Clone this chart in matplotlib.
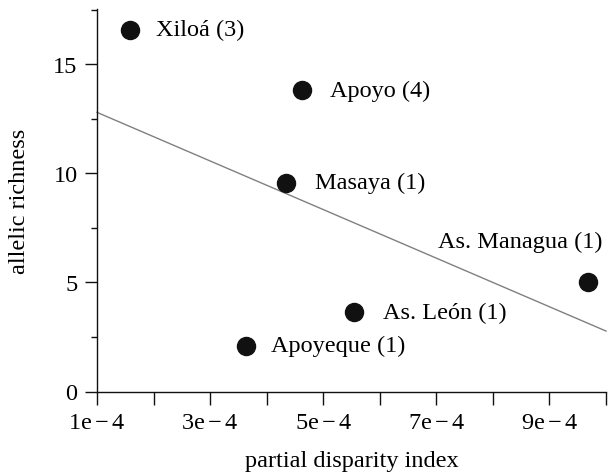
import numpy as np
import matplotlib
matplotlib.use("Agg")
import matplotlib.pyplot as plt
from matplotlib.ticker import FixedLocator

# data
sites = ["Xiloá (3)", "Apoyo (4)", "Masaya (1)", "As. Managua (1)", "As. León (1)", "Apoyeque (1)"]
disparity = [1.58e-4, 4.62e-4, 4.34e-4, 9.69e-4, 5.54e-4, 3.63e-4]
richness = [16.57, 13.82, 9.56, 5.02, 3.64, 2.09]
xticks = [1e-4, 2e-4, 3e-4, 4e-4, 5e-4, 6e-4, 7e-4, 8e-4, 9e-4, 10e-4]
xticklabels = [r"$\mathrm{1e-4}$", "", r"$\mathrm{3e-4}$", "", r"$\mathrm{5e-4}$", "",
               r"$\mathrm{7e-4}$", "", r"$\mathrm{9e-4}$", ""]
yticks = [0, 5, 10, 15]
yminor = [2.5, 7.5, 12.5, 17.5]

plt.rcParams['font.family'] = ['Liberation Serif', 'DejaVu Serif']
plt.rcParams['mathtext.fontset'] = 'custom'
plt.rcParams['mathtext.rm'] = 'Liberation Serif'
plt.rcParams['mathtext.it'] = 'Liberation Serif:italic'
plt.rcParams['mathtext.bf'] = 'Liberation Serif:bold'
FS = 17.5
plt.rcParams['font.size'] = FS

fig = plt.figure(figsize=(6.11, 4.77), dpi=100)
ax = fig.add_axes([97/611, 1-392.5/477, 509/611, 382.5/477])

xlim = (1e-4, 10e-4)
ylim = (0, 17.53)
ax.set_xlim(*xlim)
ax.set_ylim(*ylim)

# regression line
slope, intercept = np.polyfit(disparity, richness, 1)
xs = np.array(xlim)
ax.plot(xs, slope*xs + intercept, color='#808080', lw=1.0, clip_on=False, zorder=1)

ax.plot(disparity, richness, 'o', color='#111111', ms=13, zorder=3, clip_on=False)

offsets = {
    "Xiloá (3)": (19, 0, 'left'),
    "Apoyo (4)": (20, 0, 'left'),
    "Masaya (1)": (21, 0, 'left'),
    "As. Managua (1)": (10, 29, 'right'),
    "As. León (1)": (21, 0, 'left'),
    "Apoyeque (1)": (18, 0, 'left'),
}
for s, x, y in zip(sites, disparity, richness):
    dx, dy, ha = offsets[s]
    ax.annotate(s, (x, y), xytext=(dx, dy), textcoords='offset points',
                ha=ha, va='center', fontsize=FS)

for sp in ['top', 'right']:
    ax.spines[sp].set_visible(False)
for sp in ['left', 'bottom']:
    ax.spines[sp].set_linewidth(1.0)
    ax.spines[sp].set_color('#111111')

ax.xaxis.set_major_locator(FixedLocator(xticks))
ax.set_xticklabels(xticklabels)
ax.yaxis.set_major_locator(FixedLocator(yticks))
ax.set_yticklabels([str(v) for v in yticks])
ax.yaxis.set_minor_locator(FixedLocator(yminor))
ax.tick_params(axis='x', which='major', direction='out', length=9, width=1.0,
               color='#111111', labelsize=FS, pad=6)
ax.tick_params(axis='y', which='major', direction='out', length=9, width=1.0,
               color='#111111', labelsize=FS, pad=5)
ax.tick_params(axis='y', which='minor', direction='out', length=4.5, width=1.0, color='#111111')

ax.set_xlabel("partial disparity index", fontsize=FS, labelpad=12)
ax.set_ylabel("allelic richness", fontsize=FS)
ax.yaxis.set_label_coords(-0.132, 0.5)

fig.savefig("out.png", dpi=100)
